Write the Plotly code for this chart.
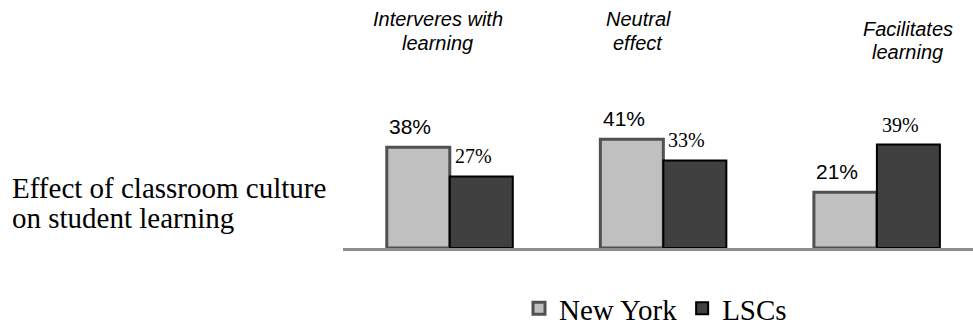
import plotly.graph_objects as go

# Survey responses: effect of classroom culture on student learning
categories = ["Interveres with learning", "Neutral effect", "Facilitates learning"]
category_lines = [["Interveres with", "learning"], ["Neutral", "effect"], ["Facilitates", "learning"]]
new_york = [38, 41, 21]
lscs = [27, 33, 39]
series_names = ["New York", "LSCs"]
row_label = ["Effect of classroom culture", "on student learning"]

x_pos = list(range(len(categories)))
BARGAP = 0.41
half = (1 - BARGAP) / 4  # offset of each bar centre from its category centre

fig = go.Figure()
fig.add_trace(go.Bar(
    x=x_pos, y=new_york, name=series_names[0],
    marker=dict(color="#c0c0c0", line=dict(color="#505050", width=3)),
))
fig.add_trace(go.Bar(
    x=x_pos, y=lscs, name=series_names[1],
    marker=dict(color="#404040", line=dict(color="#000000", width=2)),
))

annotations = []

# value labels above the bars
for i, v in enumerate(new_york):
    annotations.append(dict(
        x=i - half, y=v, xref="x", yref="y", text=f"{v}%", showarrow=False,
        xanchor="center", yanchor="bottom", xshift=-8, yshift=7,
        font=dict(family="Liberation Sans, Arial", size=21, color="black"),
    ))
for i, v in enumerate(lscs):
    annotations.append(dict(
        x=i + half, y=v, xref="x", yref="y", text=f"{v}%", showarrow=False,
        xanchor="center", yanchor="bottom", xshift=-8, yshift=7,
        font=dict(family="Liberation Serif, Times New Roman", size=20, color="black"),
    ))

PLOT_H = 248  # plot-area height in px

# italic category headings above each group
head_shift = [-12, -25, 31]
head_y = [[19.5, 43], [19.5, 43], [29, 52]]
for i, lines in enumerate(category_lines):
    for j, line in enumerate(lines):
        annotations.append(dict(
            x=i, xref="x", y=1 - head_y[i][j] / PLOT_H, yref="paper",
            text=f"<i>{line}</i>", showarrow=False,
            xanchor="center", yanchor="middle", xshift=head_shift[i],
            font=dict(family="Liberation Sans, Arial", size=20, color="black"),
        ))

# row label on the left
for j, line in enumerate(row_label):
    annotations.append(dict(
        x=(10 - 343) / 630, xref="paper", y=1 - [187.5, 217.5][j] / PLOT_H, yref="paper",
        text=line, showarrow=False, xanchor="left", yanchor="middle",
        font=dict(family="Liberation Serif, Times New Roman", size=29, color="black"),
    ))

fig.update_layout(
    width=973, height=329,
    margin=dict(l=343, r=0, t=0, b=81, autoexpand=False),
    paper_bgcolor="white", plot_bgcolor="white",
    barmode="group", bargap=BARGAP, bargroupgap=0,
    showlegend=True,
    legend=dict(
        orientation="h", x=(519 - 343) / 630, xanchor="left",
        y=-(283 - PLOT_H) / PLOT_H, yanchor="top",
        font=dict(family="Liberation Serif, Times New Roman", size=29, color="black"),
        itemclick=False, itemdoubleclick=False, traceorder="normal",
    ),
    xaxis=dict(
        range=[-0.5, 2.45], showticklabels=False, ticks="", showgrid=False,
        zeroline=False, showline=True, linecolor="#8c8c8c", linewidth=3,
        fixedrange=True,
    ),
    yaxis=dict(
        range=[0, 93.5], visible=False, showgrid=False, zeroline=False,
        fixedrange=True,
    ),
    annotations=annotations,
)

fig.write_html("out.html", config={"displayModeBar": False})
